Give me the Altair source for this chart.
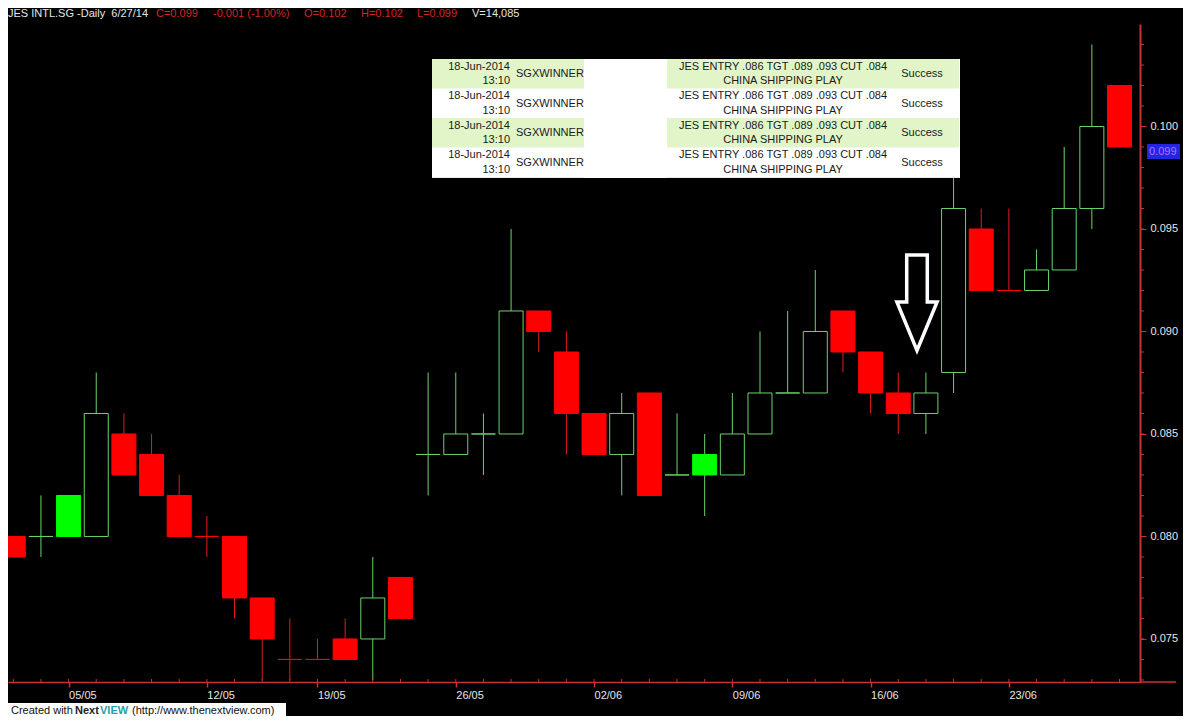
import altair as alt
import pandas as pd

# ---------------- data ----------------
dates = ["30/04", "02/05",
         "05/05", "06/05", "07/05", "08/05", "09/05",
         "12/05", "14/05", "15/05", "16/05",
         "19/05", "20/05", "21/05", "22/05", "23/05",
         "26/05", "27/05", "28/05", "29/05", "30/05",
         "02/06", "03/06", "04/06", "05/06", "06/06",
         "09/06", "10/06", "11/06", "12/06", "13/06",
         "16/06", "17/06", "18/06", "19/06", "20/06",
         "23/06", "24/06", "25/06", "26/06", "27/06"]
opens = [0.080, 0.080,
         0.082, 0.080, 0.085, 0.084, 0.082,
         0.080, 0.080, 0.077, 0.074,
         0.074, 0.075, 0.075, 0.078, 0.084,
         0.084, 0.085, 0.085, 0.091, 0.089,
         0.086, 0.084, 0.087, 0.083, 0.084,
         0.083, 0.085, 0.087, 0.087, 0.091,
         0.089, 0.087, 0.086, 0.088, 0.095,
         0.092, 0.092, 0.093, 0.096, 0.102]
highs = [0.080, 0.082,
         0.082, 0.088, 0.086, 0.085, 0.083,
         0.081, 0.080, 0.077, 0.076,
         0.075, 0.076, 0.079, 0.078, 0.088,
         0.088, 0.086, 0.095, 0.091, 0.090,
         0.086, 0.087, 0.087, 0.086, 0.085,
         0.087, 0.090, 0.091, 0.093, 0.091,
         0.089, 0.088, 0.088, 0.098, 0.096,
         0.096, 0.094, 0.099, 0.104, 0.102]
lows = [0.079, 0.079,
        0.080, 0.080, 0.083, 0.082, 0.080,
        0.079, 0.076, 0.073, 0.073,
        0.074, 0.074, 0.073, 0.076, 0.082,
        0.084, 0.083, 0.085, 0.089, 0.084,
        0.084, 0.082, 0.082, 0.083, 0.081,
        0.083, 0.085, 0.087, 0.087, 0.088,
        0.086, 0.085, 0.085, 0.087, 0.092,
        0.092, 0.092, 0.093, 0.095, 0.099]
closes = [0.079, 0.080,
          0.080, 0.086, 0.083, 0.082, 0.080,
          0.080, 0.077, 0.075, 0.074,
          0.074, 0.074, 0.077, 0.076, 0.084,
          0.085, 0.085, 0.091, 0.090, 0.086,
          0.084, 0.086, 0.082, 0.083, 0.083,
          0.085, 0.087, 0.087, 0.090, 0.089,
          0.087, 0.086, 0.087, 0.096, 0.092,
          0.092, 0.093, 0.096, 0.100, 0.099]
# candle drawing style: red = filled red, hollow = green outline,
# solid = filled bright green, doji_g / doji_r = open == close
styles = ["red", "doji_g",
          "solid", "hollow", "red", "red", "red",
          "doji_r", "red", "red", "doji_r",
          "doji_r", "red", "hollow", "red", "doji_g",
          "hollow", "doji_g", "hollow", "red", "red",
          "red", "hollow", "red", "doji_g", "solid",
          "hollow", "hollow", "doji_g", "hollow", "red",
          "red", "red", "hollow", "hollow", "red",
          "doji_r", "hollow", "hollow", "hollow", "red"]

week_labels = ["05/05", "12/05", "19/05", "26/05", "02/06", "09/06", "16/06", "23/06"]
price_labels = [0.075, 0.080, 0.085, 0.090, 0.095, 0.100]
price_minor = [0.073, 0.074, 0.075, 0.076, 0.077, 0.078, 0.079, 0.080, 0.081, 0.082,
               0.083, 0.084, 0.085, 0.086, 0.087, 0.088, 0.089, 0.090, 0.091, 0.092,
               0.093, 0.094, 0.095, 0.096, 0.097, 0.098, 0.099, 0.100, 0.101, 0.102,
               0.103, 0.104]

header_title = "JES INTL.SG -Daily\u00a0\u00a06/27/14"
header_close = "C=0.099"
header_change = "-0.001 (-1.00%)"
header_open = "O=0.102"
header_high = "H=0.102"
header_low = "L=0.099"
header_volume = "V=14,085"
last_price = "0.099"

tbl_date = ["18-Jun-2014", "18-Jun-2014", "18-Jun-2014", "18-Jun-2014"]
tbl_time = ["13:10", "13:10", "13:10", "13:10"]
tbl_source = ["SGXWINNER", "SGXWINNER", "SGXWINNER", "SGXWINNER"]
tbl_msg1 = ["JES ENTRY .086 TGT .089 .093 CUT .084"] * 4
tbl_msg2 = ["CHINA SHIPPING PLAY"] * 4
tbl_status = ["Success", "Success", "Success", "Success"]

credit_parts = ["Created with", "Next", "VIEW", "(http://www.thenextview.com)"]

# ---------------- styling ----------------
FONT = "Liberation Sans"
RED = "#FF0000"
RED_WICK = "#E41C1C"
GREEN_LINE = "#6AD36A"
GREEN_FILL = "#00FF00"
AXIS_RED = "#C83232"
LABEL = "#E6E6E6"
HEAD_RED = "#D42424"
TABLE_GREEN = "#E2F5C8"

W, H = 1132, 658

base = dates.index("05/05")
fill_map = {"red": RED, "hollow": "#000000", "solid": GREEN_FILL, "doji_g": GREEN_LINE, "doji_r": RED}
stroke_map = {"red": RED, "hollow": GREEN_LINE, "solid": GREEN_FILL, "doji_g": GREEN_LINE, "doji_r": RED}
wick_map = {"red": RED_WICK, "hollow": GREEN_LINE, "solid": GREEN_LINE, "doji_g": GREEN_LINE, "doji_r": RED_WICK}

df = pd.DataFrame({
    "date": dates, "open": opens, "high": highs, "low": lows, "close": closes, "style": styles,
})
df["idx"] = [i - base for i in range(len(dates))]
df["lo"] = df[["open", "close"]].min(axis=1)
df["hi"] = df[["open", "close"]].max(axis=1)
df["fill"] = df["style"].map(fill_map)
df["stroke"] = df["style"].map(stroke_map)
df["wick"] = df["style"].map(wick_map)

tick_idx = [int(dates.index(d) - base) for d in week_labels]
x_label_expr = " : ".join(f"datum.value == {p} ? '{l}'" for p, l in zip(tick_idx, week_labels)) + " : ''"

x_scale = alt.Scale(domain=[-base - 0.01, 38.56], nice=False, zero=False)
y_scale = alt.Scale(domain=[0.0729, 0.1050], nice=False, zero=False)

x_axis = alt.Axis(orient="bottom", values=tick_idx, labelExpr=x_label_expr, title=None,
                  grid=False, domainColor=AXIS_RED, domainWidth=1.5, tickColor=AXIS_RED,
                  tickSize=5, tickWidth=1.5, labelColor=LABEL, labelFont=FONT, labelFontSize=11,
                  labelAlign="left", labelPadding=2, labelOverlap=False, labelFlush=False)
y_axis = alt.Axis(orient="right", values=price_labels, format=".3f",
                  title=None, grid=False, domainColor=AXIS_RED, domainWidth=2, tickColor=AXIS_RED,
                  tickSize=6, labelColor=LABEL, labelFont=FONT, labelFontSize=11,
                  labelPadding=4, labelOverlap=False, labelFlush=False)

base_chart = alt.Chart(df)

wicks = base_chart.mark_rule(strokeWidth=1, clip=True).encode(
    x=alt.X("idx:Q", scale=x_scale, axis=x_axis),
    y=alt.Y("low:Q", scale=y_scale, axis=y_axis),
    y2="high:Q",
    color=alt.Color("wick:N", scale=None),
)

bodies = base_chart.mark_bar(size=24, strokeWidth=1, clip=True).encode(
    x=alt.X("idx:Q", scale=x_scale, axis=x_axis),
    y=alt.Y("lo:Q", scale=y_scale, axis=y_axis),
    y2="hi:Q",
    fill=alt.Fill("fill:N", scale=None),
    stroke=alt.Stroke("stroke:N", scale=None),
)

# minor ticks on both axes (one per trading day / per 0.001)
minor_x = base_chart.mark_rule(color=AXIS_RED, strokeWidth=1).encode(
    x=alt.X("idx:Q", scale=x_scale, axis=x_axis),
    y=alt.value(H - 3), y2=alt.value(H),
)
minor_y = alt.Chart(pd.DataFrame({"p": price_minor})).mark_rule(color=AXIS_RED, strokeWidth=1).encode(
    y=alt.Y("p:Q", scale=y_scale, axis=y_axis),
    x=alt.value(W), x2=alt.value(W + 4),
)

one = pd.DataFrame({"k": [0]})

layers = [wicks, bodies, minor_x, minor_y]

# x axis line continues under the price axis
layers.append(alt.Chart(one).mark_rule(color=AXIS_RED, strokeWidth=1.5).encode(
    x=alt.value(W), x2=alt.value(W + 36), y=alt.value(H)))

# down arrow annotation
arrow_path = "M-0.21,-0.98 L0.21,-0.98 L0.21,-0.02 L0.41,-0.02 L0,0.97 L-0.41,-0.02 L-0.21,-0.02 Z"
layers.append(alt.Chart(one).mark_point(shape=arrow_path, size=9604, filled=False,
                                         stroke="#FFFFFF", strokeWidth=3.5, opacity=1,
                                         strokeJoin="miter").encode(
    x=alt.value(909), y=alt.value(279)))

# ---------------- message table ----------------
TX0, TX1, TY0, TY1 = 424, 952, 35, 154
ROWH = 29.5
layers.append(alt.Chart(one).mark_rect(color="#FFFFFF").encode(
    x=alt.value(TX0), x2=alt.value(TX1), y=alt.value(TY0), y2=alt.value(TY1)))
for r in range(len(tbl_date) + 1):
    if r % 2 == 0:
        top = TY0 + r * ROWH
        bot = min(top + ROWH, TY1)
        for sx0, sx1 in [(TX0, 576), (659, 951)]:
            layers.append(alt.Chart(one).mark_rect(color=TABLE_GREEN).encode(
                x=alt.value(sx0), x2=alt.value(sx1), y=alt.value(top), y2=alt.value(bot)))

tbl = pd.DataFrame({"date": tbl_date, "time": tbl_time, "source": tbl_source,
                    "msg1": tbl_msg1, "msg2": tbl_msg2, "status": tbl_status})
TXT = "#1A1A1A"
for r in range(len(tbl)):
    top = TY0 + r * ROWH
    row = tbl.iloc[[r]]
    specs = [("date", 502, top + 7.5, "right"), ("time", 502, top + 22, "right"),
             ("source", 508, top + 15, "left"), ("msg1", 775, top + 7.5, "center"),
             ("msg2", 775, top + 22, "center"), ("status", 914, top + 15, "center")]
    for col, px, py, al in specs:
        layers.append(alt.Chart(row).mark_text(font=FONT, fontSize=11, color=TXT, align=al,
                                               baseline="middle").encode(
            x=alt.value(px), y=alt.value(py), text=alt.Text(f"{col}:N")))

# ---------------- header ----------------
hdr = pd.DataFrame({"t": [header_title, header_close, header_change, header_open,
                          header_high, header_low, header_volume]})
hdr_x = [0, 148, 205, 296, 353, 409, 464]
hdr_c = [LABEL, HEAD_RED, HEAD_RED, HEAD_RED, HEAD_RED, HEAD_RED, LABEL]
for i in range(len(hdr)):
    layers.append(alt.Chart(hdr.iloc[[i]]).mark_text(font=FONT, fontSize=11, color=hdr_c[i],
                                                     align="left", baseline="alphabetic").encode(
        x=alt.value(hdr_x[i]), y=alt.value(-7), text=alt.Text("t:N")))

# ---------------- last price marker ----------------
layers.append(alt.Chart(one).mark_rect(color="#2424E6").encode(
    x=alt.value(1139), x2=alt.value(1172), y=alt.value(120), y2=alt.value(135)))
layers.append(alt.Chart(pd.DataFrame({"t": [last_price]})).mark_text(
    font=FONT, fontSize=11, color="#B070FF", align="left", baseline="middle").encode(
    x=alt.value(1141), y=alt.value(128), text=alt.Text("t:N")))

# ---------------- credit line ----------------
layers.append(alt.Chart(one).mark_rect(color="#FFFFFF").encode(
    x=alt.value(0), x2=alt.value(278), y=alt.value(679), y2=alt.value(692)))
cred = pd.DataFrame({"t": credit_parts})
cred_x = [3, 67, 92, 124]
cred_w = ["normal", "bold", "bold", "normal"]
cred_c = ["#111111", "#222222", "#2E9DA6", "#111111"]
for i in range(len(cred)):
    layers.append(alt.Chart(cred.iloc[[i]]).mark_text(font=FONT, fontSize=11, color=cred_c[i],
                                                      fontWeight=cred_w[i], align="left",
                                                      baseline="alphabetic").encode(
        x=alt.value(cred_x[i]), y=alt.value(690), text=alt.Text("t:N")))

chart = alt.layer(*layers).properties(
    width=W, height=H,
    padding={"left": 0, "top": 16, "right": 43, "bottom": 34},
    autosize=alt.AutoSizeParams(type="none"),
).configure(background="#000000").configure_view(strokeWidth=0).configure_axis(labelOverlap=False)

chart.save("out.html", embed_options={"renderer": "svg", "actions": False})
